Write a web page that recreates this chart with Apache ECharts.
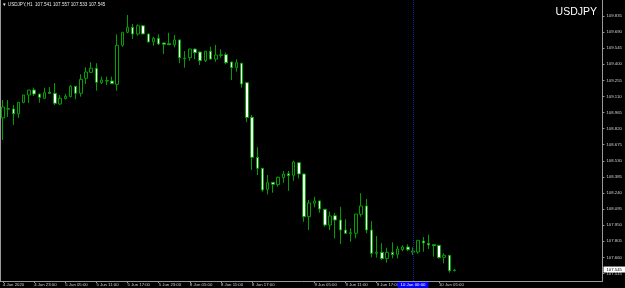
<!DOCTYPE html>
<html><head><meta charset="utf-8">
<script src="https://cdn.jsdelivr.net/npm/echarts@6/dist/echarts.min.js"></script>
<style>html,body{margin:0;padding:0;background:#000;}#c{width:625px;height:288px;}</style>
</head><body><div id="c"></div>
<script>
// OHLC per hourly bar: [open, close, low, high]
const ohlc = [
[108.916,109.015,108.717,109.078],
[108.995,109.000,108.925,109.078],
[108.997,108.954,108.853,109.033],
[108.954,109.057,108.916,109.057],
[109.057,109.123,109.048,109.123],
[109.123,109.168,109.051,109.168],
[109.168,109.132,109.114,109.189],
[109.132,109.102,109.054,109.132],
[109.093,109.144,109.090,109.189],
[109.147,109.138,109.135,109.195],
[109.138,109.048,109.033,109.231],
[109.042,109.093,109.033,109.123],
[109.090,109.111,109.084,109.132],
[109.108,109.201,109.102,109.213],
[109.201,109.138,109.084,109.201],
[109.138,109.264,109.108,109.309],
[109.273,109.330,109.222,109.373],
[109.327,109.364,109.321,109.418],
[109.364,109.237,109.162,109.409],
[109.234,109.258,109.222,109.288],
[109.252,109.249,109.213,109.288],
[109.249,109.225,109.222,109.288],
[109.219,109.571,109.162,109.670],
[109.571,109.688,109.558,109.688],
[109.688,109.733,109.679,109.844],
[109.733,109.673,109.628,109.763],
[109.673,109.747,109.658,109.760],
[109.747,109.673,109.670,109.750],
[109.673,109.601,109.598,109.676],
[109.603,109.634,109.567,109.648],
[109.634,109.583,109.574,109.670],
[109.592,109.580,109.492,109.595],
[109.585,109.576,109.573,109.684],
[109.576,109.619,109.553,109.664],
[109.619,109.459,109.409,109.622],
[109.450,109.456,109.369,109.519],
[109.459,109.537,109.432,109.540],
[109.537,109.504,109.445,109.540],
[109.510,109.432,109.393,109.513],
[109.432,109.517,109.420,109.520],
[109.517,109.447,109.440,109.558],
[109.447,109.483,109.423,109.574],
[109.480,109.486,109.459,109.535],
[109.486,109.414,109.400,109.504],
[109.420,109.369,109.258,109.423],
[109.369,109.414,109.333,109.445],
[109.409,109.222,109.189,109.412],
[109.234,108.920,108.880,109.237],
[108.922,108.561,108.447,108.943],
[108.561,108.462,108.402,108.652],
[108.462,108.267,108.251,108.465],
[108.273,108.333,108.228,108.402],
[108.336,108.318,108.242,108.339],
[108.315,108.381,108.297,108.387],
[108.378,108.411,108.333,108.438],
[108.414,108.396,108.260,108.438],
[108.399,108.519,108.351,108.531],
[108.513,108.411,108.372,108.516],
[108.411,108.026,107.981,108.414],
[108.026,108.150,107.906,108.177],
[108.147,108.168,108.111,108.206],
[108.168,108.096,108.062,108.171],
[108.093,107.951,107.936,108.096],
[107.951,108.032,107.906,108.071],
[108.035,107.996,107.831,108.059],
[107.996,107.906,107.780,108.116],
[107.906,107.877,107.870,108.003],
[107.873,107.882,107.801,107.922],
[107.877,108.050,107.831,108.050],
[108.048,108.123,108.026,108.237],
[108.123,107.906,107.877,108.186],
[107.906,107.696,107.660,107.987],
[107.696,107.705,107.657,107.852],
[107.705,107.648,107.636,107.786],
[107.648,107.705,107.612,107.747],
[107.705,107.684,107.651,107.795],
[107.687,107.735,107.651,107.762],
[107.729,107.753,107.714,107.768],
[107.753,107.729,107.717,107.777],
[107.705,107.717,107.681,107.750],
[107.708,107.813,107.693,107.813],
[107.807,107.789,107.711,107.843],
[107.786,107.771,107.735,107.864],
[107.774,107.765,107.666,107.780],
[107.768,107.657,107.648,107.771],
[107.660,107.678,107.606,107.696],
[107.678,107.540,107.522,107.681],
[107.541,107.545,107.533,107.557]
];
const slotCount = 116;                       // bars + empty right shift
const timeTickIndex = [0,6,12,18,24,30,36,42,48,60,66,72,84];
const timeTickLabels = ['4 Jun 2020','4 Jun 23:00','5 Jun 05:00','5 Jun 11:00','5 Jun 17:00','5 Jun 23:00','8 Jun 05:00','8 Jun 11:00','8 Jun 17:00','9 Jun 05:00','9 Jun 11:00','9 Jun 17:00','10 Jun 05:00'];
const priceTicks = [107.515,107.660,107.805,107.950,108.095,108.240,108.385,108.530,108.675,108.820,108.965,109.110,109.255,109.400,109.545,109.690,109.835];
const yMin = 107.4466, yMax = 109.979;
const header = 'USDJPY,H1  107.541 107.557 107.533 107.545';
const symbolName = 'USDJPY';
const lastPrice = 107.545;
const markerIndex = 79, markerLabel = '10 Jun 00:00';

const categories = [];
for (let k = 0; k < slotCount; k++) {
  const t = timeTickIndex.indexOf(k);
  categories.push(t >= 0 ? timeTickLabels[t] : ' ' + k);
}
const isTick = (idx) => timeTickIndex.indexOf(idx) >= 0;

const chart = echarts.init(document.getElementById('c'), null, {renderer: 'canvas'});
const green = '#00a000';
chart.setOption({
  backgroundColor: '#000',
  animation: false,
  grid: {left: -1.85, right: 21, top: 0, bottom: 7},
  xAxis: {
    type: 'category', data: categories, boundaryGap: true,
    axisLine: {lineStyle: {color: '#9a9a9a', width: 1}},
    axisTick: {show: true, alignWithLabel: true, interval: (i) => isTick(i), length: 2, lineStyle: {color: '#9a9a9a'}},
    axisLabel: {interval: (i) => isTick(i), color: '#d0d0d0', fontSize: 4.3, fontFamily: 'Liberation Sans', align: 'left', margin: 1.5},
    splitLine: {show: false}
  },
  yAxis: {
    type: 'value', position: 'right', min: yMin, max: yMax, scale: true,
    axisLine: {show: true, lineStyle: {color: '#9a9a9a', width: 1}},
    axisTick: {show: true, customValues: priceTicks, length: 2, lineStyle: {color: '#9a9a9a'}},
    axisLabel: {customValues: priceTicks, color: '#d0d0d0', fontSize: 4.3, fontFamily: 'Liberation Sans', margin: 4, formatter: (v) => v.toFixed(3)},
    splitLine: {show: false}
  },
  series: [{
    type: 'candlestick',
    data: ohlc,
    barWidth: 3,
    itemStyle: {color: '#000', color0: '#fff', borderColor: green, borderColor0: green, borderWidth: 1},
    markLine: {
      silent: true, symbol: ['none','none'], animation: false, z: 10,
      data: [
        {yAxis: lastPrice, lineStyle: {color: 'rgba(0,0,0,0)', width: 1},
         label: {show: true, position: 'end', distance: 1, formatter: lastPrice.toFixed(3), backgroundColor: '#ffffff', color: '#000', fontSize: 4.3, fontFamily: 'Liberation Sans', padding: [1, 3, 1, 3]}},
        {xAxis: markerIndex, lineStyle: {color: '#1c1ca8', type: 'dotted', width: 1},
         label: {show: true, position: 'start', distance: 1, formatter: markerLabel, backgroundColor: '#0000ff', color: '#fff', fontSize: 4.3, fontFamily: 'Liberation Sans', padding: [1, 3, 1, 3]}}
      ]
    }
  }],
  graphic: [
    {type: 'line', shape: {x1: 0.5, y1: 0, x2: 0.5, y2: 281}, style: {stroke: '#9a9a9a', lineWidth: 1}},
    {type: 'text', left: 2, top: 2, style: {text: '\u25BC ' + header, fill: '#e8e8e8', fontSize: 4.6, fontFamily: 'Liberation Sans'}},
    {type: 'text', right: 28, top: 7, style: {text: symbolName, fill: '#ffffff', fontSize: 10.5, fontFamily: 'Liberation Sans'}}
  ]
});
</script></body></html>
